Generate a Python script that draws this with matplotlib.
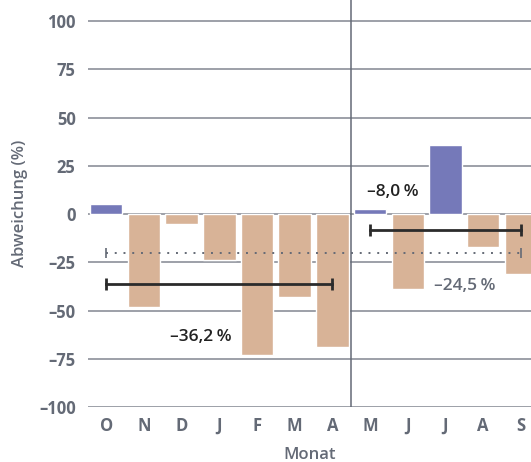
import matplotlib.pyplot as plt

# Monatswerte (Abweichung in %)
monate = ['O', 'N', 'D', 'J', 'F', 'M', 'A', 'M', 'J', 'J', 'A', 'S']
werte = [5.5, -48, -5, -24, -73, -43, -69, 2.5, -39, 36, -17, -31]

# Mittelwerte der beiden Zeitraeume
mittel_1 = -36.2
mittel_2 = -8.0
mittel_gesamt = -20.0

y_ticks = [-100, -75, -50, -25, 0, 25, 50, 75, 100]
y_labels = ['–100', '–75', '–50', '–25', '0', '25', '50', '75', '100']

blau = '#7579b9'
beige = '#d8b397'
grau = '#646a76'
gitter = '#8c909a'

plt.rcParams['font.family'] = ['Open Sans', 'DejaVu Sans']

fig = plt.figure(figsize=(5.31, 4.62), dpi=100)
ax = fig.add_axes([0.166, 0.119, 0.834, 0.881])

x = list(range(len(monate)))
farben = [blau if w > 0 else beige for w in werte]
ax.bar(x, werte, width=0.86, color=farben, edgecolor='white', linewidth=1, zorder=2)

# Gitterlinien
for t in y_ticks:
    ax.axhline(t, color=gitter, lw=1.2, zorder=1)

# Trennlinie zwischen A und M
ax.axvline(6.5, color=grau, lw=1.1, zorder=3)

# Gesamtmittel (gepunktet)
ax.plot([0, 11], [mittel_gesamt, mittel_gesamt], color=grau, lw=1.4,
        linestyle=(0, (1, 3.5)), zorder=4)
ax.plot([0, 11], [mittel_gesamt, mittel_gesamt], linestyle='none', marker='|',
        markersize=7, markeredgewidth=1.2, color=grau, zorder=4)

# Mittelwerte je Zeitraum
ax.plot([0, 6], [mittel_1, mittel_1], color='#2b2b2b', lw=2, zorder=5)
ax.plot([0, 6], [mittel_1, mittel_1], linestyle='none', marker='|',
        markersize=9, markeredgewidth=2, color='#2b2b2b', zorder=5)
ax.plot([7, 11], [mittel_2, mittel_2], color='#2b2b2b', lw=2, zorder=5)
ax.plot([7, 11], [mittel_2, mittel_2], linestyle='none', marker='|',
        markersize=9, markeredgewidth=2, color='#2b2b2b', zorder=5)

ax.text(2.5, -63.5, '–36,2\u2009%', ha='center', va='center', fontsize=12.5,
        fontweight='semibold', color='#222222')
ax.text(7.6, 11.5, '–8,0\u2009%', ha='center', va='center', fontsize=12.5,
        fontweight='semibold', color='#222222')
ax.text(9.5, -37.5, '–24,5\u2009%', ha='center', va='center', fontsize=12.5,
        fontweight='semibold', color=grau)

ax.set_xlim(-0.48, 11.27)
ax.set_ylim(-100, 111)
ax.set_yticks(y_ticks)
ax.set_yticklabels(y_labels)
ax.set_xticks(x)
ax.set_xticklabels(monate)
ax.tick_params(length=0, labelsize=12, labelcolor=grau)
ax.tick_params(axis='x', pad=7)
ax.tick_params(axis='y', pad=9)
for lab in ax.get_xticklabels() + ax.get_yticklabels():
    lab.set_fontweight('bold')

for s in ax.spines.values():
    s.set_visible(False)

ax.set_xlabel('Monat', fontsize=12, color=grau, fontweight='semibold', labelpad=9)
ax.set_ylabel('Abweichung (%)', fontsize=12, color=grau, fontweight='semibold', labelpad=8)

plt.savefig('out.png', dpi=100, facecolor='white')
plt.close()
